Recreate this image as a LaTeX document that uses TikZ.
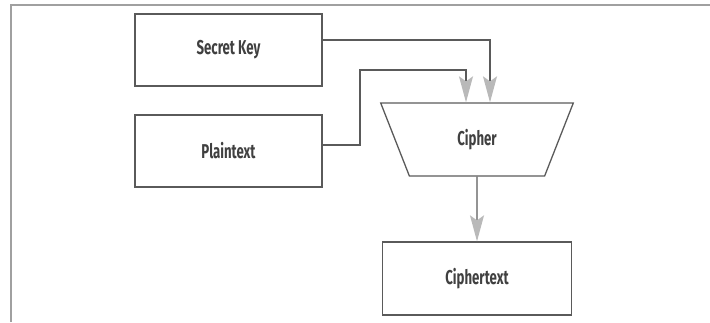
\documentclass[tikz,border=0pt]{standalone}
\usepackage{fontspec}
\setmainfont{Fira Sans}[FakeStretch=0.66]
\usepackage{tikz}
\usetikzlibrary{arrows.meta, shapes.geometric}
\definecolor{boxgray}{HTML}{5a5a5a}
\definecolor{tipgray}{HTML}{b9b9b9}
\definecolor{framegray}{HTML}{a0a0a0}
\definecolor{textgray}{HTML}{404040}

\begin{document}
\begin{tikzpicture}[x=1pt, y=-1pt,
    box/.style={draw=boxgray, line width=1.3pt, minimum width=187pt, minimum height=72pt,
        inner sep=0pt, font=\fontsize{20}{22}\selectfont\bfseries, text=textgray},
    wire/.style={draw=boxgray, line width=1.3pt},
    tip/.style={-{Stealth[length=26pt, width=14pt, inset=5pt, fill=tipgray, color=tipgray]}}]
    \useasboundingbox (0,0) rectangle (710,322);
    % frame
    \draw[framegray, line width=1.5pt] (11,322) -- (11,5) -- (710,5);
    % boxes
    \node[box] (key) at (228.5,50) {Secret Key};
    \node[box] (plain) at (228.5,151) {Plaintext};
    \node[box, trapezium, shape border rotate=180, trapezium stretches=true,
        trapezium angle=68, minimum width=193pt, minimum height=73pt] (cipher) at (477,139.5) {Cipher};
    \node[box, minimum width=189pt, minimum height=73pt] (out) at (477,278.5) {Ciphertext};
    \coordinate (bend) at (360,70);
    % connectors
    \draw[wire, tip] ([yshift=10pt]key.east) -| ([xshift=13pt]cipher.north);
    \draw[wire, tip] ([yshift=6pt]plain.east) -| (bend) -| ([xshift=-11pt]cipher.north);
    \draw[wire, tip] (cipher.south) -- (out.north);
\end{tikzpicture}
\end{document}
